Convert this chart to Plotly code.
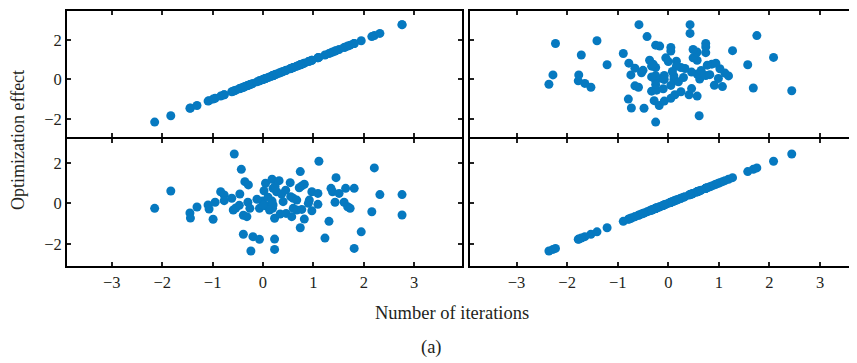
import plotly.graph_objects as go

# Variable 1 ("A") and variable 2 ("B") values (A on x, B on y)
var_a = [-0.57, -0.43, -1.83, -2.15, -1.45, -1.44, -1.31, -1.09, -1.07, -0.95,
         -0.99, -0.84, -0.77, -0.77, -0.62, -0.46, -0.36, -0.29, -0.59, -0.54,
         -0.47, -0.30, -0.26, -0.39, -0.32, -0.39, -0.20, -0.07, -0.24, 0.23,
         0.23, -0.07, -0.01, 0.05, 0.05, 0.02, 0.18, 0.20, 0.18, 0.19,
         0.23, 0.27, 1.11, 2.21, 0.74, 1.45, 0.32, 0.54, 0.77, 0.82,
         0.72, 0.24, 0.37, 0.97, 1.09, 1.35, 1.38, 1.51, 1.64, 1.81,
         2.32, 2.76, 2.76, 2.16, 1.43, 1.61, 1.68, 1.73, 1.09, 0.92,
         0.97, 0.82, 0.74, 1.31, 1.95, 1.23, 1.81, 0.55, 0.60, 0.67,
         0.40, 0.20, 0.60, 0.67, 0.77, 0.34, 0.46, 0.57, 0.90, 0.13,
         0.00, 0.10, -0.12, 0.45]
var_b = [2.44, 1.68, 0.61, -0.25, -0.48, -0.73, -0.18, -0.08, -0.28, 0.05,
         -0.79, 0.57, 0.41, 0.13, 0.25, 0.46, 1.07, 0.91, -0.33, -0.23,
         -0.10, 0.05, -0.25, -0.59, -0.66, -1.53, -1.65, -1.78, -2.36, -1.77,
         -2.28, -0.25, 0.11, -0.12, 0.99, 0.62, 1.19, 0.74, 0.11, -0.25,
         -0.74, 0.57, 2.08, 1.75, 1.57, 1.27, 1.12, 1.02, 0.86, 0.94,
         0.77, 0.82, 0.46, 0.57, 0.49, 0.74, 0.57, 0.49, 0.74, 0.74,
         0.43, 0.43, -0.58, -0.42, 0.05, 0.05, -0.17, -0.25, -0.05, 0.16,
         -0.37, -0.78, -1.21, -0.89, -1.41, -1.72, -2.23, 0.33, 0.25, 0.16,
         0.08, -0.08, -0.25, -0.33, -0.30, -0.53, -0.50, -0.66, 0.00, -0.33,
         -0.08, 0.30, 0.20, 0.65]

x_ticks = [-3, -2, -1, 0, 1, 2, 3]
y_ticks = [-2, 0, 2]

axis_title = "Number of iterations"
y_title = "Optimization effect"
caption = "(a)"

color = "#0679c0"
font_family = "Liberation Serif, Times New Roman, serif"
txt_color = "#231f20"

# the page body has an 8px margin, so the figure starts at (8, 8) in the window
OFF = 8
W, H = 857 - OFF, 363 - OFF


def px_x(v):
    return (v - OFF) / W


def px_y(v):
    return 1 - (v - OFF) / H


fig = go.Figure()

panels = [
    (var_a, var_a, "x", "y"),
    (var_b, var_a, "x2", "y2"),
    (var_a, var_b, "x3", "y3"),
    (var_b, var_b, "x4", "y4"),
]
for xd, yd, xa, ya in panels:
    fig.add_trace(go.Scatter(x=xd, y=yd, mode="markers", xaxis=xa, yaxis=ya,
                             marker=dict(color=color, size=9, line=dict(width=0)),
                             showlegend=False, hoverinfo="skip"))

left_dom = [px_x(67), px_x(462)]
right_dom = [px_x(470), 1.0]
top_dom = [px_y(137), px_y(11)]
bot_dom = [px_y(266), px_y(139)]

left_range = [-3.89, 3.95]
right_range = [-3.92, 3.73]
top_range = [-2.9, 3.45]
bot_range = [-3.1, 3.18]

common = dict(showgrid=False, zeroline=False, showline=True, linecolor="black",
              linewidth=2, ticks="inside", ticklen=4, tickwidth=1.5, tickcolor="#222",
              automargin=False,
              tickfont=dict(family=font_family, size=16.5, color=txt_color))


def xax(dom, rng, anchor, labels):
    d = dict(common)
    d.update(domain=dom, range=rng, anchor=anchor, mirror="ticks",
             tickvals=x_ticks, showticklabels=labels)
    return d


def yax(dom, rng, anchor, labels, mirror):
    d = dict(common)
    d.update(domain=dom, range=rng, anchor=anchor, mirror=mirror,
             tickvals=y_ticks, showticklabels=labels)
    return d


fig.update_layout(
    width=W, height=H,
    margin=dict(l=0, r=0, t=0, b=0, autoexpand=False),
    paper_bgcolor="white", plot_bgcolor="white",
    xaxis=xax(left_dom, left_range, "y", False),
    yaxis=yax(top_dom, top_range, "x", True, "ticks"),
    xaxis2=xax(right_dom, right_range, "y2", False),
    yaxis2=yax(top_dom, top_range, "x2", False, False),
    xaxis3=xax(left_dom, left_range, "y3", True),
    yaxis3=yax(bot_dom, bot_range, "x3", True, "ticks"),
    xaxis4=xax(right_dom, right_range, "y4", True),
    yaxis4=yax(bot_dom, bot_range, "x4", False, False),
    annotations=[
        dict(text=axis_title, x=px_x(452), y=px_y(313), xref="paper", yref="paper",
             xanchor="center", yanchor="middle",
             showarrow=False, font=dict(family=font_family, size=18.5, color=txt_color)),
        dict(text=caption, x=px_x(431), y=px_y(347), xref="paper", yref="paper",
             xanchor="center", yanchor="middle",
             showarrow=False, font=dict(family=font_family, size=18.5, color=txt_color)),
        dict(text=y_title, x=px_x(18), y=px_y(140), xref="paper", yref="paper",
             xanchor="center", yanchor="middle",
             showarrow=False, textangle=-90,
             font=dict(family=font_family, size=18, color=txt_color)),
    ],
)

fig.write_html("out.html")
